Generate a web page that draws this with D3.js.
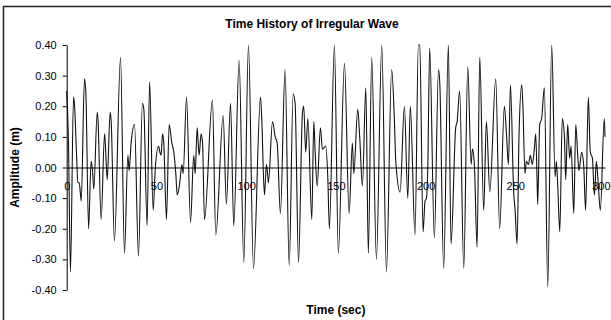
<!DOCTYPE html>
<html>
<head>
<meta charset="utf-8">
<script src="https://cdn.jsdelivr.net/npm/d3@7"></script>
<style>
    body { margin: 0; background: #fff; }
    text { font-family: "Liberation Sans", Arial, sans-serif; }
</style>
</head>
<body>
<svg id="graph"></svg>
<script>
// values (time in sec, amplitude in m)
const timeSec = [
    0, 1.0, 2.1, 3.8, 4.4, 5.5, 6.2, 7.0, 8.1, 9.9, 10.7, 12.2, 13.6, 14.4, 15.1, 17.0, 17.4, 19.2, 21.1, 21.4,
    22.0, 22.6, 24.2, 24.8, 26.6, 30.0, 32.2, 34.1, 34.8, 35.9, 37.8, 40.0, 42.2, 43.0, 44.8, 46.2,
    48.2, 49.3, 51.2, 51.9, 52.6, 53.4, 54.1, 55.6, 57.1, 58.6, 59.7, 60.8, 61.6, 63.0, 64.2, 64.9, 66.8, 69.0, 70.8, 71.6,
    72.7, 73.8, 74.9, 75.7, 76.8, 81.2, 83.1, 87.2, 89.0, 91.3, 93.1, 96.1,
    98.7, 101.3, 104.1, 108.0, 108.7, 110.2, 111.3, 112.1, 112.4, 114.7, 116.2, 117.3, 119.1, 121.7, 124.0, 126.2, 127.3, 129.2, 131.4, 132.1,
    133.2, 134.4, 136.6, 137.7, 138.4, 139.6, 141.4, 142.5, 144.4, 145.5, 146.4,
    149.2, 151.4, 154.8, 157.4, 159.2, 160.0, 162.2, 163.3, 164.8, 166.7, 168.1, 170.0, 172.6, 175.6, 178.2, 181.1, 182.6, 183.4, 185.8, 188.2,
    190.1, 191.5, 194.1, 196.0,
    196.8, 198.6, 199.7, 200.5, 201.2, 202.3, 204.9, 207.2, 207.9, 210.1, 212.7, 214.2, 216.8, 217.6, 219.0, 221.3, 223.5, 225.4, 226.1, 227.2,
    228.7, 230.2, 232.4, 233.9, 235.8, 239.1, 241.3, 243.9, 245.0, 246.2,
    247.3, 249.1, 249.9, 251.0, 252.1, 253.6, 254.3, 255.4, 256.2, 257.3, 258.4, 259.5, 260.6, 261.4, 262.1, 262.5, 263.6, 264.7, 266.2, 268.1,
    270.3, 272.2, 272.9, 273.6, 274.8, 276.2, 277.4, 278.1, 279.2, 280.3, 281.1, 282.6, 283.7, 284.8, 285.5, 287.0, 288.1, 289.2, 290.7, 291.8,
    293.0, 294.1, 295.2, 296.3, 297.4, 299.6, 300
]

const amplitudeM = [
    0.25, 0.08, -0.34, 0.23, 0.20, 0.04, -0.05, -0.05, -0.11, 0.29, 0.24, -0.20, 0.02, -0.01, -0.07, 0.18, 0.16, -0.17, 0.11, 0.09,
    0.02, -0.04, 0.18, 0.15, -0.24, 0.36, -0.28, 0.04, -0.01, 0.08, 0.14, -0.29, 0.21, 0.19, -0.19, 0.28,
    -0.14, -0.01, 0.07, 0.05, 0.04, 0.11, 0.08, -0.17, 0.14, 0.08, 0.05, -0.02, -0.09, -0.05, 0.01, -0.02, 0.23, -0.18, 0.04, -0.02,
    0.13, 0.04, 0.11, 0.08, -0.17, 0.22, -0.22, 0.17, -0.12, 0.21, -0.19, 0.35,
    -0.31, 0.40, -0.33, 0.23, 0.16, -0.09, 0.01, -0.03, -0.05, 0.15, 0.10, 0.08, -0.15, 0.32, -0.32, 0.24, 0.21, -0.31, 0.18, 0.20,
    0.05, 0.16, -0.17, 0.15, 0.06, -0.06, 0.13, 0.06, 0.07, -0.03, -0.20,
    0.40, -0.28, 0.34, -0.15, 0.08, -0.02, 0.19, 0.10, -0.06, 0.26, -0.28, 0.36, -0.30, 0.40, -0.34, 0.32, 0.16, 0.02, -0.08, 0.20,
    -0.10, 0.20, -0.22, 0.40,
    0.40, -0.21, -0.11, -0.10, -0.01, 0.39, -0.23, 0.32, 0.28, -0.33, 0.40, -0.25, 0.13, 0.15, 0.25, -0.33, 0.33, 0.01, 0.06, 0.01,
    -0.26, 0.36, -0.14, 0.15, -0.08, 0.29, -0.20, 0.20, 0.12, 0.01,
    0.27, -0.08, -0.14, -0.25, 0.11, 0.27, 0.19, -0.02, 0.02, 0.01, 0.04, 0.01, 0.06, 0.11, -0.03, -0.12, 0.14, 0.16, 0.26, -0.39,
    0.40, -0.03, 0.02, -0.05, -0.21, 0.16, 0.10, -0.04, 0.14, 0.03, 0.07, -0.15, 0.14, 0.04, -0.01, 0.05, 0.01, -0.14, 0.23, 0.05,
    0.03, -0.09, 0.02, -0.06, -0.14, 0.16, 0.10
]

const xTicks = [0, 50, 100, 150, 200, 250, 300]
const yTicks = [-0.4, -0.3, -0.2, -0.1, 0, 0.1, 0.2, 0.3, 0.4]

const chartTitle = "Time History of Irregular Wave"
const xTitle = "Time (sec)"
const yTitle = "Amplitude (m)"

const svgDimensions = { width: 611, height: 320 }
const plot = { left: 66.7, right: 605, top: 45, bottom: 290 }

let graphData = timeSec.map((t, i) => ({ t: t, a: amplitudeM[i] }))

let svg = d3.select("#graph")
    .attr("width", svgDimensions.width)
    .attr("height", svgDimensions.height)

// chart area frame (runs off the right and bottom edge like the original)
svg.append("rect")
    .attr("x", 3.5)
    .attr("y", 6.5)
    .attr("width", 700)
    .attr("height", 400)
    .attr("fill", "#fff")
    .attr("stroke", "#222")
    .attr("stroke-width", 1.5)

let xScale = d3.scaleLinear()
    .domain([0, 300])
    .range([plot.left, plot.right])

let yScale = d3.scaleLinear()
    .domain([-0.4, 0.4])
    .range([plot.bottom, plot.top])

let fmt = d => (Math.abs(d) < 1e-9 ? 0 : d).toFixed(2)

// wave, smoothed a little like the spreadsheet line
svg.append("path")
    .datum(graphData)
    .attr("d", d3.line()
        .x(d => xScale(d.t))
        .y(d => yScale(d.a))
        .curve(d3.curveMonotoneX)
    )
    .attr("fill", "none")
    .attr("stroke", "#111")
    .attr("stroke-width", 1.1)

let y_axis = d3.axisLeft(yScale)
    .tickValues(yTicks)
    .tickFormat(fmt)
    .tickSize(4)
    .tickSizeOuter(0)
    .tickPadding(6)

svg.append("g")
    .attr("transform", `translate(${plot.left}, 0)`)
    .call(y_axis)

// x axis sits on the zero line
let x_axis = d3.axisBottom(xScale)
    .tickValues(xTicks)
    .tickFormat(d3.format("d"))
    .tickSize(0)
    .tickPadding(15)

let xAxisG = svg.append("g")
    .attr("transform", `translate(0, ${yScale(0)})`)
    .call(x_axis)

// keep the last label inside the window
xAxisG.selectAll(".tick text")
    .filter(d => d === xTicks[xTicks.length - 1])
    .attr("text-anchor", "end")
    .attr("x", 5)

svg.selectAll(".tick text")
    .attr("font-family", "Liberation Sans, Arial, sans-serif")
    .attr("font-size", 11)
    .attr("fill", "#000")
svg.selectAll(".domain, .tick line")
    .attr("stroke", "#000")
    .attr("stroke-width", 1)

svg.append("text")
    .attr("x", 312)
    .attr("y", 28)
    .attr("text-anchor", "middle")
    .attr("font-size", 12)
    .attr("font-weight", "bold")
    .text(chartTitle)

svg.append("text")
    .attr("x", (plot.left + plot.right) / 2)
    .attr("y", 314)
    .attr("text-anchor", "middle")
    .attr("font-size", 12)
    .attr("font-weight", "bold")
    .text(xTitle)

svg.append("text")
    .attr("transform", `translate(19, ${yScale(0)}) rotate(-90)`)
    .attr("text-anchor", "middle")
    .attr("font-size", 12)
    .attr("font-weight", "bold")
    .text(yTitle)
</script>
</body>
</html>
